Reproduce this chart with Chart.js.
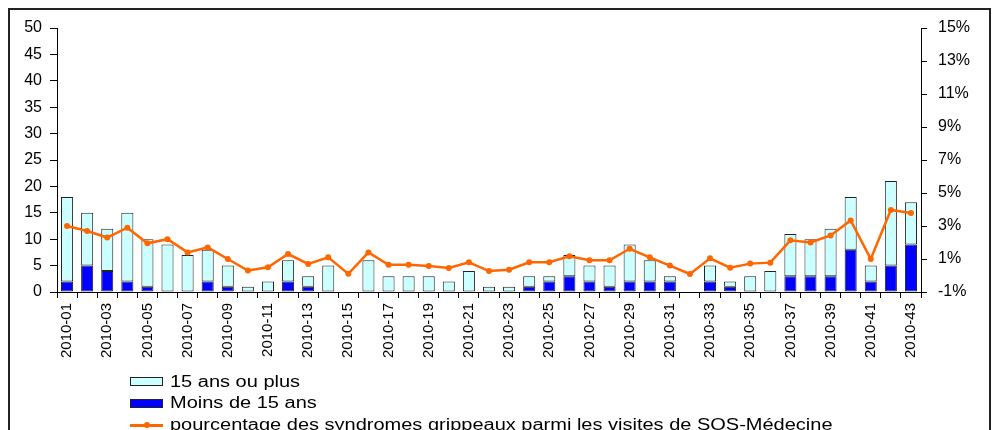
<!DOCTYPE html>
<html>
<head>
<meta charset="utf-8">
<script src="https://cdn.jsdelivr.net/npm/chart.js@4/dist/chart.umd.min.js"></script>
<style>
  body { margin: 0; background: #fff; font-family: "Liberation Sans", Arial, sans-serif; }
  #wrap { position: relative; width: 992px; height: 430px; overflow: hidden; }
  #frame { position: absolute; left: 8px; top: 8px; width: 979px; height: 440px; border: 2px solid #222; pointer-events: none; }
  .leg { position: absolute; left: 130px; height: 20px; }
  .leg .sw { position: absolute; left: 0; }
  .leg .txt { position: absolute; left: 40px; top: 0; font-size: 16px; line-height: 20px; white-space: nowrap; color: #000; transform: scaleX(1.25); transform-origin: left center; }
</style>
</head>
<body>
<div id="wrap">
  <canvas id="chart-grippe" width="992" height="430"></canvas>
  <div id="frame"></div>
  <div class="leg" style="top:372px"><div class="sw" style="top:5px;width:31px;height:7px;background:#ccffff;border:1px solid #222"></div><span class="txt">15 ans ou plus</span></div>
  <div class="leg" style="top:393px"><div class="sw" style="top:6px;width:31px;height:7px;background:#0000ff;border:1px solid #222"></div><span class="txt">Moins de 15 ans</span></div>
  <div class="leg" style="top:415px"><div class="sw" style="top:9px;width:33px;height:3px;background:#ff6600"></div><div class="sw" style="top:7px;left:14px;width:6px;height:6px;border-radius:3px;background:#ff6600"></div><span class="txt">pourcentage des syndromes grippeaux parmi les visites de SOS-Médecine</span></div>
</div>
<script>
'use strict';
// semaines 2010-01 .. 2010-43
var weeks = [];
for (var w = 1; w <= 43; w++) {
  weeks.push('2010-' + (w < 10 ? '0' + w : w));
}
// nombre de cas, moins de 15 ans
var moins15 = [2, 5, 4, 2, 1, 0, 0, 2, 1, 0, 0, 2, 1, 0, 0, 0, 0, 0, 0, 0, 0, 0, 0, 1, 2, 3, 2, 1, 2, 2, 2, 0, 2, 1, 0, 0, 3, 3, 3, 8, 2, 5, 9];
// nombre de cas, 15 ans ou plus
var plus15 = [16, 10, 8, 13, 9, 9, 7, 6, 4, 1, 2, 4, 2, 5, 0, 6, 3, 3, 3, 2, 4, 1, 1, 2, 1, 4, 3, 4, 7, 4, 1, 0, 3, 1, 3, 4, 8, 7, 9, 10, 3, 16, 8];
// pourcentage SOS-Medecine
var pctSOS = [3.0, 2.7, 2.3, 2.9, 1.95, 2.2, 1.4, 1.7, 1.0, 0.3, 0.5, 1.3, 0.7, 1.1, 0.1, 1.4, 0.65, 0.65, 0.58, 0.45, 0.8, 0.27, 0.35, 0.8, 0.8, 1.16, 0.92, 0.92, 1.62, 1.1, 0.6, 0.09, 1.04, 0.47, 0.72, 0.78, 2.13, 2.0, 2.43, 3.34, 1.0, 3.97, 3.79];

var tickFont = { family: 'Liberation Sans, Arial, sans-serif', size: 16 };

function displayGrippeChart() {
  var ctx = document.getElementById('chart-grippe').getContext('2d');
  var chart = new Chart(ctx, {
    type: 'bar',
    data: {
      labels: weeks,
      datasets: [{
        type: 'line',
        label: 'pourcentage des syndromes grippeaux parmi les visites de SOS-Médecine',
        data: pctSOS,
        yAxisID: 'y1',
        borderColor: '#ff6600',
        backgroundColor: '#ff6600',
        borderWidth: 2.5,
        pointRadius: 3,
        pointBorderWidth: 0,
        tension: 0,
        order: 0
      }, {
        label: 'Moins de 15 ans',
        data: moins15,
        backgroundColor: '#0000ff',
        borderColor: '#222',
        borderWidth: 1,
        borderSkipped: false,
        stack: 'cas',
        order: 1
      }, {
        label: '15 ans ou plus',
        data: plus15,
        backgroundColor: '#ccffff',
        borderColor: '#222',
        borderWidth: 1,
        borderSkipped: false,
        stack: 'cas',
        order: 1
      }]
    },
    options: {
      responsive: false,
      animation: false,
      barPercentage: 0.6,
      categoryPercentage: 1,
      layout: { padding: { top: 28, left: 0, right: 0, bottom: 0 } },
      plugins: { legend: { display: false }, tooltip: { enabled: false } },
      scales: {
        x: {
          stacked: true,
          offset: true,
          grid: { drawOnChartArea: false, offset: true, tickLength: 6, color: '#000' },
          border: { color: '#000', width: 1 },
          ticks: {
            autoSkip: false,
            maxRotation: 90,
            minRotation: 90,
            padding: 5,
            color: '#000',
            font: { family: 'Liberation Sans, Arial, sans-serif', size: 15 },
            callback: function(val, i) { return i % 2 === 0 ? weeks[i] : ''; }
          },
          afterFit: function(scale) { scale.height = 138; }
        },
        y: {
          stacked: true,
          position: 'left',
          min: 0,
          max: 50,
          grid: { drawOnChartArea: false, tickLength: 7, color: '#000' },
          border: { color: '#000', width: 1 },
          ticks: { stepSize: 5, padding: 8, color: '#000', font: tickFont },
          afterFit: function(scale) { scale.width = 57; }
        },
        y1: {
          position: 'right',
          min: -1,
          max: 15,
          grid: { drawOnChartArea: false, tickLength: 6, color: '#000' },
          border: { color: '#000', width: 1 },
          ticks: {
            stepSize: 2,
            padding: 11,
            color: '#000',
            font: tickFont,
            callback: function(v) { return v + '%'; }
          },
          afterFit: function(scale) { scale.width = 71; }
        }
      }
    }
  });
}
displayGrippeChart();
</script>
</body>
</html>
